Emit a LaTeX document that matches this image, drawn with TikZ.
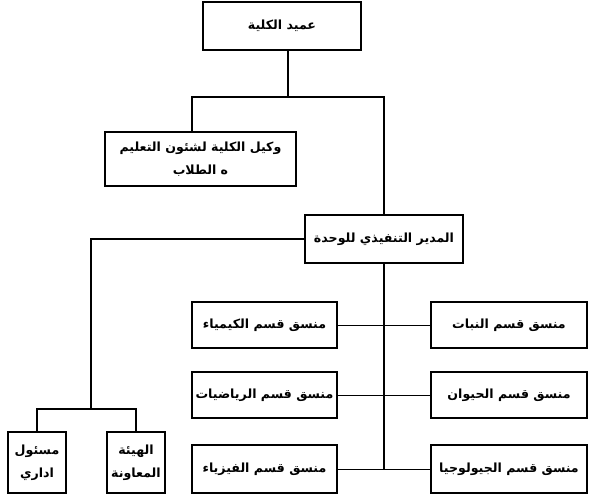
\documentclass[tikz,border=0pt]{standalone}
\usepackage{fontspec}
\usepackage{tikz}
\usetikzlibrary{positioning, calc}
\TeXXeTstate=1
\newfontfamily\arabicfont[Script=Arabic]{DejaVu Sans}

\begin{document}
\begin{tikzpicture}[
    x=1pt, y=-1pt,
    font=\arabicfont\bfseries\fontsize{12.6}{23}\selectfont,
    unitbox/.style={rectangle, draw, line width=2.8pt, align=center, inner sep=2pt,
        minimum width=158pt, minimum height=48pt},
    deptbox/.style={unitbox, inner xsep=0pt, minimum height=46pt},
    staffbox/.style={unitbox, minimum width=58pt, minimum height=61pt, inner sep=1pt},
    link/.style={line width=1.6pt},
    branch/.style={line width=0.9pt}
]
\useasboundingbox (0,0) rectangle (591,496);

\node[unitbox] (dean) at (282,26) {\beginR عميد الكلية\endR};
\node[unitbox, minimum width=191pt, minimum height=54pt] (vakil) at (200.5,159)
    {\beginR وكيل الكلية لشئون التعليم\endR\\\beginR ه الطلاب\endR};
\node[unitbox] (exec) at (384,239) {\beginR المدير التنفيذي للوحدة\endR};

\node[deptbox, minimum width=145pt] (chem)   at (264.5,325) {\beginR منسق قسم الكيمياء\endR};
\node[deptbox, minimum width=156pt] (plants) at (509,325)   {\beginR منسق قسم النبات\endR};
\node[deptbox, minimum width=145pt] (math)   at (264.5,395) {\beginR منسق قسم الرياضيات\endR};
\node[deptbox, minimum width=156pt] (zoo)    at (509,395)   {\beginR منسق قسم الحيوان\endR};
\node[deptbox, minimum width=145pt, minimum height=48pt] (phys) at (264.5,469) {\beginR منسق قسم الفيزياء\endR};
\node[deptbox, minimum width=156pt, minimum height=48pt] (geo)  at (509,469)   {\beginR منسق قسم الجيولوجيا\endR};

\node[staffbox] (admin)  at (37,462.5)  {\beginR مسئول\endR\\\beginR اداري\endR};
\node[staffbox] (helper) at (136,462.5) {\beginR الهيئة\endR\\\beginR المعاونة\endR};

% top of the chart
\coordinate (deanJ) at (288,97);
\coordinate (hubL) at (192,97);
\draw[link] (dean.south -| deanJ) -- (deanJ);
\draw[link] (vakil.north -| hubL) -- (hubL) -- (exec.north |- hubL) -- (exec.north);

% staff branch
\coordinate (staffJ) at (91,409);
\draw[link] (exec.west) -| (staffJ);
\draw[link] (admin.north) |- (staffJ) -| (helper.north);

% departments
\coordinate (spineEnd) at (384,469);
\draw[link] (exec.south) -- (spineEnd);
\draw[branch] (chem) -- (plants);
\draw[branch] (math) -- (zoo);
\draw[branch] (phys) -- (geo);
\end{tikzpicture}
\end{document}
